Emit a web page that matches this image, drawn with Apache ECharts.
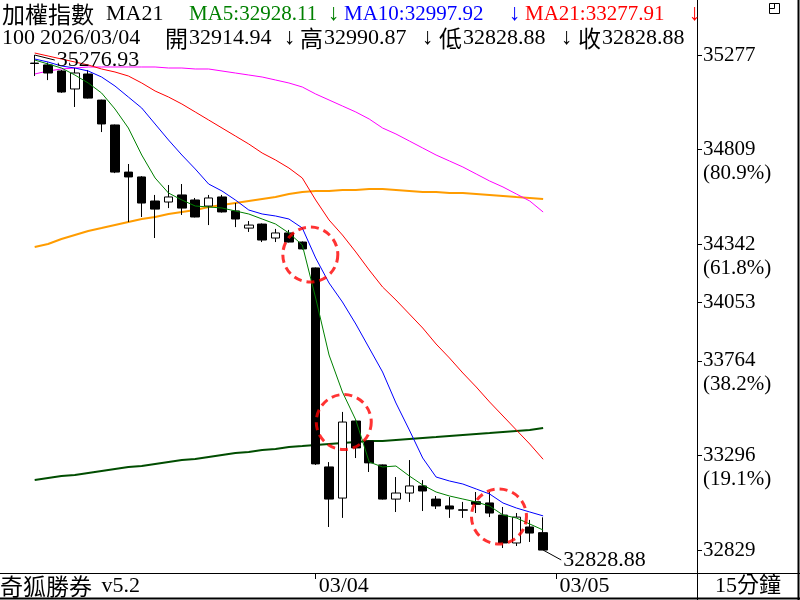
<!DOCTYPE html>
<html><head><meta charset="utf-8">
<script src="https://cdn.jsdelivr.net/npm/echarts@6/dist/echarts.min.js"></script>
<style>html,body{margin:0;padding:0;background:#fff}#c{width:800px;height:600px}</style>
</head><body><div id="c"></div>
<script>
// ---------- data ----------
const openV  = [35237, 35228, 35198, 35109, 35183, 35054, 34931, 34698, 34674, 34555, 34550, 34585, 34560, 34530, 34575, 34506, 34421, 34441, 34372, 34397, 34352, 34224, 33240, 33086, 33467, 33368, 33250, 33081, 33111, 33146, 33081, 33047, 33028, 33068, 33062, 33002, 32864, 32943, 32914.94];
const highV  = [35276.93, 35240, 35203, 35213, 35203, 35056, 34933, 34738, 34678, 34585, 34634, 34639, 34570, 34585, 34585, 34545, 34456, 34444, 34417, 34412, 34355, 34226, 33264, 33512, 33470, 33370, 33252, 33190, 33274, 33175, 33096, 33091, 33067, 33116, 33116, 33042, 33012, 32978, 32990.87];
const lowV   = [35173, 35153, 35090, 35020, 35062, 34896, 34693, 34451, 34476, 34372, 34520, 34486, 34474, 34436, 34498, 34426, 34402, 34352, 34352, 34350, 34315, 33250, 32943, 32988, 33284, 33215, 33079, 33017, 33067, 33022, 33032, 32988, 32988, 33012, 32992, 32839, 32849, 32869, 32828.88];
const closeV = [35235, 35188, 35094, 35188, 35064, 34936, 34698, 34674, 34545, 34515, 34575, 34520, 34476, 34570, 34501, 34466, 34436, 34362, 34397, 34352, 34318, 33255, 33081, 33462, 33334, 33260, 33081, 33111, 33146, 33121, 33047, 33032, 33026, 33055, 33012, 32864, 32992, 32913, 32828.88];

const ma5  = [35252.3, 35232.5, 35212.7, 35178.1, 35138.6, 35089.1, 35010.0, 34916.0, 34782.5, 34668.8, 34594.6, 34560.0, 34530.3, 34525.4, 34520.4, 34505.6, 34490.8, 34466.0, 34441.3, 34396.8, 34337.5, 34075.4, 33793.5, 33610.6, 33472.1, 33264.4, 33239.7, 33244.6, 33195.2, 33150.7, 33116.1, 33096.3, 33081.4, 33066.6, 33046.8, 33002.3, 32987.5, 32957.8, 32928.11];
const ma10 = [35257.2, 35242.4, 35222.6, 35212.7, 35197.9, 35168.2, 35123.7, 35069.3, 35014.9, 34935.8, 34856.7, 34782.5, 34713.3, 34639.1, 34604.5, 34560.0, 34510.5, 34490.8, 34480.9, 34466.0, 34421.5, 34273.2, 34149.6, 34055.6, 33946.8, 33828.1, 33709.5, 33556.2, 33422.6, 33284.2, 33190.2, 33170.5, 33155.6, 33130.9, 33106.2, 33061.7, 33036.9, 33017.2, 32997.92];
const ma21 = [35286.9, 35272.1, 35257.2, 35242.4, 35227.6, 35207.8, 35193.0, 35173.2, 35138.6, 35099.0, 35069.3, 35034.7, 34995.2, 34955.6, 34916.0, 34876.5, 34836.9, 34792.4, 34757.8, 34718.2, 34668.8, 34560.0, 34461.1, 34386.9, 34302.9, 34213.8, 34129.8, 34065.5, 33996.3, 33927.0, 33847.9, 33778.7, 33704.5, 33635.3, 33561.1, 33491.9, 33422.6, 33353.4, 33277.91];
const lineMagenta = [35183.1, 35197.9, 35207.8, 35212.7, 35217.7, 35217.7, 35217.7, 35217.7, 35217.7, 35217.7, 35212.7, 35212.7, 35207.8, 35207.8, 35197.9, 35188.0, 35178.1, 35168.2, 35153.4, 35138.6, 35118.8, 35084.2, 35054.5, 35024.8, 34995.2, 34960.5, 34916.0, 34886.4, 34851.8, 34817.1, 34782.5, 34752.9, 34723.2, 34688.6, 34654.0, 34624.3, 34589.7, 34555.0, 34500.6];
const lineOrange  = [34327.6, 34342.4, 34367.1, 34386.9, 34406.7, 34421.5, 34436.4, 34451.2, 34466.0, 34475.9, 34490.8, 34500.6, 34510.5, 34525.4, 34535.3, 34545.2, 34555.0, 34564.9, 34574.8, 34589.7, 34599.6, 34604.5, 34604.5, 34609.4, 34609.4, 34614.4, 34614.4, 34609.4, 34604.5, 34599.6, 34599.6, 34594.6, 34594.6, 34589.7, 34584.7, 34579.8, 34574.8, 34569.9, 34564.9];
const lineDarkGreen = [33175.4, 33185.3, 33195.2, 33200.1, 33210.0, 33219.9, 33229.8, 33239.7, 33244.6, 33254.5, 33264.4, 33274.3, 33279.2, 33289.1, 33299.0, 33308.9, 33313.9, 33323.7, 33328.7, 33338.6, 33343.5, 33348.5, 33353.4, 33358.4, 33363.3, 33368.3, 33368.3, 33373.2, 33378.1, 33383.1, 33388.0, 33393.0, 33397.9, 33402.9, 33407.8, 33412.8, 33417.7, 33422.6, 33432.5];

const slotCount = 50;                       // category slots on the x axis
const xTickIndex = [21, 39];
const xTickText  = ['03/04', '03/05'];
const fibRatios  = [1, 0.809, 0.618, 0.5, 0.382, 0.191, 0];
const fibPercent = ['', '(80.9%)', '(61.8%)', '', '(38.2%)', '(19.1%)', ''];
const yAxisMax = 35549, yAxisMin = 32715.5;
const circleX = [20.6, 23.1, 34.7];
const circleY = [34290, 33462, 32995];
const headerTitle = '加權指數';
const headerMA = 'MA21';
const headerZoom = '100';
const headerDate = '2026/03/04';
const footerLeft = ['奇狐勝券', ' v5.2'];
const footerRight = '15分鐘';

// ---------- derived ----------
const categories = Array.from({length: slotCount}, (_, i) => String(i));
const candleData = openV.map((o, i) => [o, closeV[i], lowV[i], highV[i]]);
const hiMax = Math.max(...highV), loMin = Math.min(...lowV);
const hiIdx = highV.indexOf(hiMax), loIdx = lowV.indexOf(loMin);
const fibValues = fibRatios.map(r => Math.round(loMin + r * (hiMax - loMin)));
const last = openV.length - 1;

const SERIF = "'Liberation Serif','Times New Roman',serif";
const MIXED = "'Liberation Serif','Noto Sans CJK TC',serif";
const CJK = "'Noto Sans CJK TC','Noto Sans CJK SC',sans-serif";

function yLabel(v) {
  let best = 0, d = Infinity;
  fibValues.forEach((f, i) => { const dd = Math.abs(f - v); if (dd < d) { d = dd; best = i; } });
  const p = fibPercent[best];
  return p ? ' \n' + fibValues[best] + '\n' + p : String(fibValues[best]);
}

function txt(text, x, y, color, family, size, align) {
  return {type: 'text', x: x, y: y, z: 200, silent: true,
    style: {text: text, fill: color, fontSize: size || 21, fontFamily: family || MIXED,
      verticalAlign: 'middle', align: align || 'left'}};
}
function ln(x1, y1, x2, y2, w) {
  return {type: 'line', z: 150, silent: true, shape: {x1, y1, x2, y2},
    style: {stroke: '#000', lineWidth: w || 1}};
}

const GREEN = '#008000', BLUE = '#0000ff', RED = '#ff0000';
const f2 = v => v.toFixed(2);

const graphics = [
  // frame
  ln(697.5, 0, 697.5, 600), ln(798.5, 0, 798.5, 600, 2), ln(0, 573.5, 800, 573.5), ln(0, 598.5, 800, 598.5, 2),
  // small icon top right
  {type: 'rect', z: 150, shape: {x: 769.5, y: 3.5, width: 10, height: 10}, style: {fill: '#fff', stroke: '#000', lineWidth: 1}},
  ln(769.5, 8.5, 774.5, 8.5), ln(774.5, 3.5, 774.5, 8.5),
  // header line 1
  txt(headerTitle, 2, 14, '#000', CJK, 23),
  txt(headerMA, 106, 14, '#000', MIXED, 22),
  txt('MA5:' + f2(ma5[last]), 189, 14, GREEN, MIXED, 21), txt('↓', 328, 14, GREEN, MIXED, 23),
  txt('MA10:' + f2(ma10[last]), 344, 14, BLUE, MIXED, 21), txt('↓', 509, 14, BLUE, MIXED, 23),
  txt('MA21:' + f2(ma21[last]), 525, 14, RED, MIXED, 21), txt('↓', 689, 14, RED, MIXED, 23),
  // header line 2
  txt(headerZoom, 2, 38, '#000', MIXED, 22), txt(headerDate, 40, 38, '#000', MIXED, 22),
  txt('開', 165, 38, '#000', CJK, 23), txt(f2(openV[last]), 189, 38, '#000', MIXED, 22), txt('↓', 284, 38, '#000', MIXED, 23),
  txt('高', 300, 38, '#000', CJK, 23), txt(f2(highV[last]), 324, 38, '#000', MIXED, 22), txt('↓', 422, 38, '#000', MIXED, 23),
  txt('低', 439, 38, '#000', CJK, 23), txt(f2(lowV[last]), 463, 38, '#000', MIXED, 22), txt('↓', 561, 38, '#000', MIXED, 23),
  txt('收', 578, 38, '#000', CJK, 23), txt(f2(closeV[last]), 602, 38, '#000', MIXED, 22),
  // footer
  txt(footerLeft[0], 0, 586, '#000', CJK, 23), txt(footerLeft[1], 96, 586, '#000', MIXED, 22),
  txt(footerRight, 748, 586, '#000', MIXED, 22, 'center')
];

const chart = echarts.init(document.getElementById('c'), null, {renderer: 'canvas'});
chart.setOption({
  animation: false,
  backgroundColor: '#fff',
  grid: {left: 28, right: 103, top: 0, height: 573, containLabel: false, outerBoundsMode: 'none'},
  xAxis: [{
    type: 'category', data: categories, boundaryGap: true,
    axisLine: {show: false, onZero: false},
    axisTick: {show: true, alignWithLabel: true, length: 6, interval: (i) => xTickIndex.includes(i), lineStyle: {color: '#000'}},
    axisLabel: {show: true, interval: (i) => xTickIndex.includes(i), color: '#000', fontSize: 22, fontFamily: SERIF,
      align: 'left', margin: 2, padding: [0, 0, 0, 3],
      formatter: (v, i) => { const k = xTickIndex.indexOf(Number(v)); return k >= 0 ? xTickText[k] : ''; }},
    splitLine: {show: false}
  }, {
    type: 'value', min: -0.5, max: slotCount - 0.5, show: false, axisLine: {onZero: false}
  }],
  yAxis: {
    type: 'value', position: 'right', min: yAxisMin, max: yAxisMax, scale: true,
    axisLine: {show: true, onZero: false, lineStyle: {color: '#000', width: 1}},
    splitLine: {show: false},
    axisTick: {show: true, length: 5, customValues: fibValues, lineStyle: {color: '#000'}},
    axisLabel: {show: true, customValues: fibValues, formatter: yLabel, color: '#000', fontSize: 21,
      fontFamily: SERIF, lineHeight: 24, margin: 6, hideOverlap: false}
  },
  series: [
    {type: 'line', name: 'darkgreen', data: lineDarkGreen, symbol: 'none', lineStyle: {color: '#004d00', width: 2}, z: 2},
    {type: 'line', name: 'orange', data: lineOrange, symbol: 'none', lineStyle: {color: '#ff9c00', width: 2}, z: 2},
    {type: 'line', name: 'magenta', data: lineMagenta, symbol: 'none', lineStyle: {color: '#ff00ff', width: 1}, z: 2},
    {type: 'candlestick', data: candleData, barWidth: 9, z: 3,
      itemStyle: {color: '#ffffff', color0: '#000000', borderColor: '#000000', borderColor0: '#000000', borderWidth: 1}},
    {type: 'line', name: 'MA21', data: ma21, symbol: 'none', lineStyle: {color: RED, width: 1}, z: 4},
    {type: 'line', name: 'MA10', data: ma10, symbol: 'none', lineStyle: {color: BLUE, width: 1}, z: 4},
    {type: 'line', name: 'MA5', data: ma5, symbol: 'none', lineStyle: {color: GREEN, width: 1}, z: 4},
    {type: 'scatter', xAxisIndex: 1, data: circleX.map((x, i) => [x, circleY[i]]), symbol: 'circle', symbolSize: 55, z: 6,
      itemStyle: {color: 'rgba(0,0,0,0)', borderColor: RED, borderWidth: 3, borderType: [8, 5]}},
    {type: 'line', xAxisIndex: 1, data: [[hiIdx, hiMax], [hiIdx + 1.5, hiMax - 25]], symbol: 'none', z: 7,
      lineStyle: {color: '#000', width: 1},
      endLabel: {show: true, formatter: () => f2(hiMax), color: '#000', fontSize: 22, fontFamily: SERIF, distance: 2}},
    {type: 'line', xAxisIndex: 1, data: [[loIdx, loMin], [loIdx + 1.35, loMin - 49]], symbol: 'none', z: 7,
      lineStyle: {color: '#000', width: 1},
      endLabel: {show: true, formatter: () => f2(loMin), color: '#000', fontSize: 22, fontFamily: SERIF, distance: 2}}
  ],
  graphic: graphics
});
</script></body></html>
